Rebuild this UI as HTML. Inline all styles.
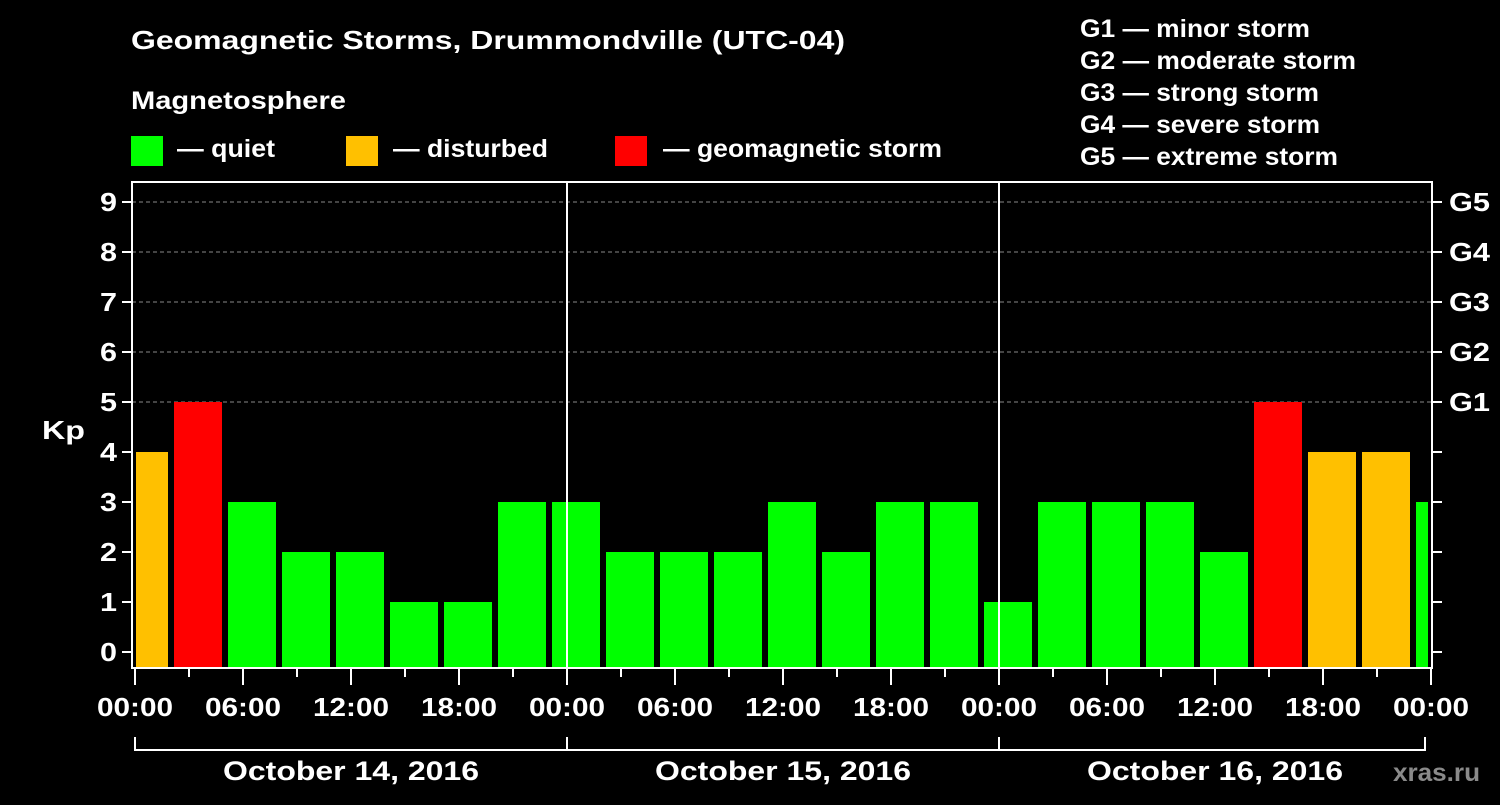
<!DOCTYPE html>
<html><head><meta charset="utf-8"><style>
body{margin:0;background:#000;width:1500px;height:800px;overflow:hidden;font-family:"Liberation Sans",Arial,sans-serif}
svg text{font-family:"Liberation Sans",Arial,sans-serif;font-weight:bold;fill:#fff}
</style></head><body>
<svg id="chart" width="1500" height="800" xmlns="http://www.w3.org/2000/svg">
<text x="131" y="49" font-size="26" textLength="714" lengthAdjust="spacingAndGlyphs">Geomagnetic Storms, Drummondville (UTC-04)</text>
<text x="131" y="109" font-size="25" textLength="215" lengthAdjust="spacingAndGlyphs">Magnetosphere</text>
<g><rect x="131" y="136" width="32" height="30" fill="#00ff00"/><text x="177" y="157" font-size="25" textLength="98" lengthAdjust="spacingAndGlyphs">— quiet</text></g>
<g><rect x="346" y="136" width="32" height="30" fill="#ffc000"/><text x="393" y="157" font-size="25" textLength="155" lengthAdjust="spacingAndGlyphs">— disturbed</text></g>
<g><rect x="615" y="136" width="32" height="30" fill="#ff0000"/><text x="663" y="157" font-size="25" textLength="279" lengthAdjust="spacingAndGlyphs">— geomagnetic storm</text></g>
<g font-size="25">
<text x="1080" y="37" textLength="230" lengthAdjust="spacingAndGlyphs">G1 — minor storm</text>
<text x="1080" y="69" textLength="276" lengthAdjust="spacingAndGlyphs">G2 — moderate storm</text>
<text x="1080" y="101" textLength="239" lengthAdjust="spacingAndGlyphs">G3 — strong storm</text>
<text x="1080" y="133" textLength="240" lengthAdjust="spacingAndGlyphs">G4 — severe storm</text>
<text x="1080" y="165" textLength="258" lengthAdjust="spacingAndGlyphs">G5 — extreme storm</text>
</g>
<text x="42" y="439" font-size="26" textLength="43" lengthAdjust="spacingAndGlyphs">Kp</text>
<text x="1393" y="781" font-size="25" textLength="87" lengthAdjust="spacingAndGlyphs" style="fill:#8a8a8a">xras.ru</text>
<g id="grid"></g><g id="bars"></g><g id="axes"></g>
</svg>
<script>
const kpValues=[4,5,3,2,2,1,1,3,3,2,2,2,3,2,3,3,1,3,3,3,2,5,4,4,3];
const firstBarHour=-11/12; // bar k starts at (firstBarHour + 3k) hours
const yTicks=[0,1,2,3,4,5,6,7,8,9];
const gLabels=["","","","","","G1","G2","G3","G4","G5"];
const xTickLabels=["00:00","06:00","12:00","18:00","00:00","06:00","12:00","18:00","00:00","06:00","12:00","18:00","00:00"];
const dateLabels=["October 14, 2016","October 15, 2016","October 16, 2016"];
const NS="http://www.w3.org/2000/svg";
const L=132,R=1432,T=182,B=668;
const xS=h=>135+h*18;
const yS=v=>652-v*50;
function mk(tag,attrs,parent){const e=document.createElementNS(NS,tag);for(const k in attrs)e.setAttribute(k,attrs[k]);document.getElementById(parent).appendChild(e);return e;}
yTicks.forEach(v=>{
 if(v>=5){const g=mk('line',{x1:L,x2:R,y1:yS(v),y2:yS(v),stroke:'#888','stroke-dasharray':'4,3','stroke-width':1},'grid');
 
 }
 const t=mk('line',{x1:L-10,x2:L,y1:yS(v),y2:yS(v),stroke:'#fff','stroke-width':2},'axes');
 
 
 const t2=mk('line',{x1:R,x2:R+10,y1:yS(v),y2:yS(v),stroke:'#fff','stroke-width':2},'axes');
 
 
 const l=mk('text',{x:L-15,y:yS(v)+9,'text-anchor':'end','font-size':26,textLength:17,lengthAdjust:'spacingAndGlyphs'},'axes');l.textContent=v;
 
 
 if(gLabels[v]){const g=mk('text',{x:R+17,y:yS(v)+9,'font-size':26,textLength:41,lengthAdjust:'spacingAndGlyphs'},'axes');g.textContent=gLabels[v];
 
 }
});
kpValues.forEach((v,k)=>{
 let x1=xS(firstBarHour+3*k)+1.5,x2=xS(firstBarHour+3*k+3)-4.5;
 x1=Math.max(x1,136);x2=Math.min(x2,1428);
 if(x2<=x1)return;
 const c=v>=5?'#ff0000':v>=4?'#ffc000':'#00ff00';
 const b=mk('rect',{x:x1,y:yS(v),width:x2-x1,height:B-yS(v),fill:c},'bars');
 
 
});
const f=mk('rect',{x:L,y:T,width:R-L,height:B-T,fill:'none',stroke:'#fff','stroke-width':2},'axes');


[1,2].forEach(d=>{const s=mk('line',{x1:xS(24*d),x2:xS(24*d),y1:T,y2:B,stroke:'#fff','stroke-width':2},'axes');
 
 });
for(let h=0;h<=72;h+=3){const t=mk('line',{x1:xS(h),x2:xS(h),y1:B,y2:B+(h%6==0?17:9),stroke:'#fff','stroke-width':2},'axes');
 
 }
xTickLabels.forEach((s,i)=>{const t=mk('text',{x:xS(i*6),y:716,'text-anchor':'middle','font-size':26,textLength:76,lengthAdjust:'spacingAndGlyphs'},'axes');t.textContent=s;
 
 });
const br=mk('path',{d:`M${xS(0)} 737V750H1425V737M${xS(24)} 737V750M${xS(48)} 737V750`,stroke:'#fff','stroke-width':2,fill:'none'},'axes');


dateLabels.forEach((s,i)=>{const t=mk('text',{x:xS(24*i+12),y:780,'text-anchor':'middle','font-size':27,textLength:256,lengthAdjust:'spacingAndGlyphs'},'axes');t.textContent=s;
 
 });
</script>
</body></html>
